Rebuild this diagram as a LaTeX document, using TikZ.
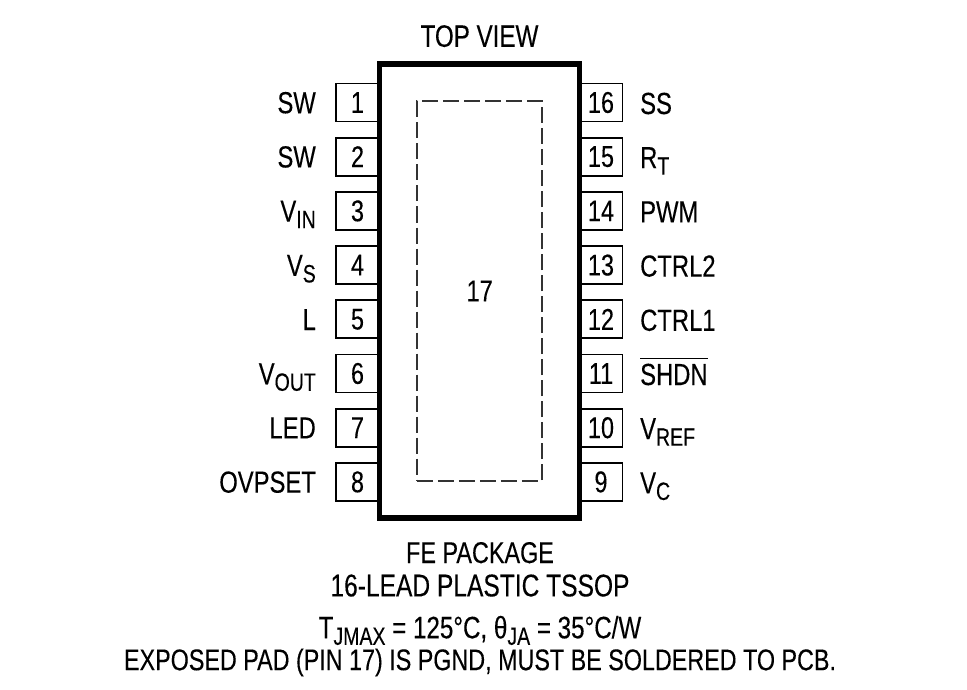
\documentclass[tikz,border=0pt]{standalone}
\usepackage{fontspec}
\usepackage{tikz}
\usetikzlibrary{positioning}
\setmainfont[FakeStretch=0.78,FakeBold=0.2]{Liberation Sans}
\newcommand{\lowtext}[1]{\raisebox{-6.5pt}{\fontsize{25}{25}\selectfont #1}}
\newcommand{\barred}[1]{\sbox0{#1}\rlap{\rule[26.5pt]{\wd0}{1pt}}\box0}

\begin{document}
\begin{tikzpicture}[x=1pt,y=-1pt]
\tikzstyle{package}=[draw,line width=5.2pt,minimum width=200pt,minimum height=454pt,inner sep=0,outer sep=0]
\tikzstyle{exposed}=[draw=black!80,line width=2pt,dash pattern=on 16pt off 5pt,minimum width=125.5pt,minimum height=379pt,inner sep=0,outer sep=0,font=\fontsize{30}{32}\selectfont]
\tikzstyle{pin}=[draw,line width=1.7pt,minimum width=43pt,minimum height=38pt,inner sep=0,outer sep=0,font=\fontsize{30}{32}\selectfont]
\tikzstyle{leftname}=[inner sep=0,text height=21.5pt,text depth=0pt,font=\fontsize{30.5}{33}\selectfont]
\tikzstyle{rightname}=[inner sep=0,text height=23pt,text depth=0pt,font=\fontsize{30.5}{33}\selectfont]
\tikzstyle{caption}=[inner sep=0,text height=22pt,text depth=0pt,font=\fontsize{30.5}{33}\selectfont]
\useasboundingbox (0,0) rectangle (967,690);
% pins
\node[pin] (p1) at (357.5,102.5) {1};
\node[pin,below=16.2pt of p1] (p2) {2};
\node[pin,below=16.2pt of p2] (p3) {3};
\node[pin,below=16.2pt of p3] (p4) {4};
\node[pin,below=16.2pt of p4] (p5) {5};
\node[pin,below=16.2pt of p5] (p6) {6};
\node[pin,below=16.2pt of p6] (p7) {7};
\node[pin,below=16.2pt of p7] (p8) {8};
\node[pin] (p16) at (601,102.5) {16};
\node[pin,below=16.2pt of p16] (p15) {15};
\node[pin,below=16.2pt of p15] (p14) {14};
\node[pin,below=16.2pt of p14] (p13) {13};
\node[pin,below=16.2pt of p13] (p12) {12};
\node[pin,below=16.2pt of p12] (p11) {11};
\node[pin,below=16.2pt of p11] (p10) {10};
\node[pin,below=16.2pt of p10] (p9) {9};
% package
\node[package,fill=white] (chip) at (479.5,291) {};
\node[exposed] (pad) at (479.7,291) {17};
\node[caption,above=17pt of chip,font=\fontsize{31}{33}\selectfont] (top) {TOP VIEW};
% names
\node[leftname,left=20pt of p1] (sw1) {SW};
\node[leftname,left=20pt of p2] (sw2) {SW};
\node[leftname,left=20pt of p3] (vin) {V\lowtext{IN}};
\node[leftname,left=20pt of p4] (vs) {V\lowtext{S}};
\node[leftname,left=20pt of p5] (l) {L};
\node[leftname,left=20pt of p6] (vout) {V\lowtext{OUT}};
\node[leftname,left=20pt of p7] (led) {LED};
\node[leftname,left=20pt of p8] (ovpset) {OVPSET};
\node[rightname,right=17.5pt of p16] (ss) {SS};
\node[rightname,right=17.5pt of p15] (rt) {R\lowtext{T}};
\node[rightname,right=17.5pt of p14] (pwm) {PWM};
\node[rightname,right=17.5pt of p13] (ctrl2) {CTRL2};
\node[rightname,right=17.5pt of p12] (ctrl1) {CTRL1};
\node[rightname,right=17.5pt of p11] (shdn) {\barred{SHDN}};
\node[rightname,right=17.5pt of p10] (vref) {V\lowtext{REF}};
\node[rightname,right=17.5pt of p9] (vc) {V\lowtext{C}};
% captions
\node[caption,font=\fontsize{30}{33}\selectfont] (fe) at (480,552) {FE PACKAGE};
\node[caption,below=11pt of fe,font=\fontsize{31.5}{33}\selectfont] (lead) {16-LEAD PLASTIC TSSOP};
\node[caption,below=19.5pt of lead,font=\fontsize{31}{33}\selectfont] (temp) {T\lowtext{JMAX} = 125°C, θ\lowtext{JA} = 35°C/W};
\node[caption,below=9.5pt of temp,font=\fontsize{29.9}{33}\selectfont] (note) {EXPOSED PAD (PIN 17) IS PGND, MUST BE SOLDERED TO PCB.};
\end{tikzpicture}
\end{document}
